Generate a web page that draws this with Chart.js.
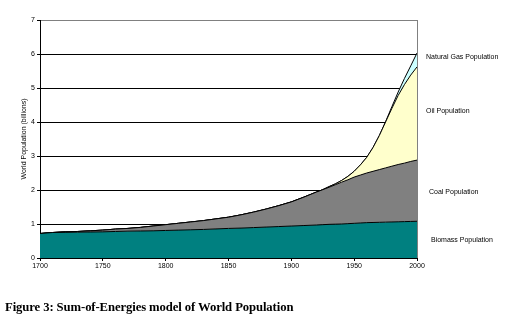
<!DOCTYPE html>
<html>
<head>
<meta charset="utf-8">
<script src="https://cdn.jsdelivr.net/npm/chart.js@4/dist/chart.umd.min.js"></script>
<style>
  html, body { margin: 0; padding: 0; background: #fff; }
  #wrap { position: relative; width: 522px; height: 333px; overflow: hidden; }
  canvas { position: absolute; left: 0; top: 0; }
  .lbl { position: absolute; font-family: "Liberation Sans", Arial, sans-serif; font-size: 7px; line-height: 8px; color: #000; white-space: nowrap; }
  #caption { position: absolute; left: 5px; top: 300px; font-family: "Liberation Serif", "Times New Roman", serif; font-weight: bold; font-size: 12.7px; line-height: 14px; letter-spacing: -0.1px; color: #000; white-space: nowrap; }
</style>
</head>
<body>
<div id="wrap">
  <canvas id="c" width="522" height="333"></canvas>
  <div class="lbl" style="left:426px; top:53px;">Natural Gas Population</div>
  <div class="lbl" style="left:426px; top:107px;">Oil Population</div>
  <div class="lbl" style="left:429px; top:188px;">Coal Population</div>
  <div class="lbl" style="left:431px; top:236px;">Biomass Population</div>
  <div id="caption">Figure 3: Sum-of-Energies model of World Population</div>
</div>
<script>
// Years (x values)
const years = [1700,1710,1720,1730,1740,1750,1760,1770,1780,1790,1800,1810,1820,1830,1840,1850,1860,1870,1880,1890,1900,1910,1920,1925,1930,1935,1940,1945,1950,1955,1960,1965,1970,1975,1980,1985,1990,1995,2000];
// Population supported by each energy source (billions), stacked
const biomass = [0.72,0.75,0.755,0.76,0.765,0.77,0.78,0.79,0.795,0.80,0.81,0.82,0.83,0.84,0.855,0.87,0.88,0.895,0.91,0.925,0.94,0.955,0.97,0.98,0.99,0.995,1.00,1.01,1.02,1.03,1.04,1.045,1.05,1.055,1.06,1.065,1.07,1.075,1.08];
const coal    = [0.00,0.00,0.015,0.02,0.035,0.05,0.07,0.08,0.105,0.14,0.17,0.20,0.23,0.26,0.295,0.33,0.39,0.455,0.53,0.615,0.71,0.835,0.97,1.03,1.09,1.16,1.23,1.29,1.36,1.41,1.46,1.505,1.55,1.595,1.64,1.685,1.72,1.765,1.80];
const oil     = [0,0,0,0,0,0,0,0,0,0,0,0,0,0,0,0,0,0,0,0,0,0,0,0,0.02,0.025,0.05,0.10,0.17,0.30,0.46,0.70,1.00,1.35,1.70,2.03,2.31,2.54,2.74];
const gas     = [0,0,0,0,0,0,0,0,0,0,0,0,0,0,0,0,0,0,0,0,0,0,0,0,0,0,0,0,0,0,0,0,0,0.01,0.05,0.10,0.18,0.27,0.41];
const seriesNames = ["Biomass Population","Coal Population","Oil Population","Natural Gas Population"];
const yTicks = [0,1,2,3,4,5,6,7];
const xTicks = [1700,1750,1800,1850,1900,1950,2000];

function pts(arr) { return years.map((y, i) => ({ x: y, y: arr[i] })); }

const mk = (label, arr, color, fill) => ({
  label, data: pts(arr), backgroundColor: color, borderColor: '#000', borderWidth: 1,
  pointRadius: 0, tension: 0, fill
});

new Chart(document.getElementById('c'), {
  type: 'line',
  data: {
    datasets: [
      mk(seriesNames[0], biomass, '#008080', 'origin'),
      mk(seriesNames[1], coal, '#808080', '-1'),
      mk(seriesNames[2], oil, '#FFFFCC', '-1'),
      mk(seriesNames[3], gas, '#CCFFFF', '-1')
    ]
  },
  options: {
    responsive: false,
    animation: false,
    events: [],
    layout: { padding: { left: 0, top: 20, right: 105, bottom: 55 } },
    plugins: { legend: { display: false }, tooltip: { enabled: false } },
    scales: {
      x: {
        type: 'linear', min: 1700, max: 2000,
        afterBuildTicks: (s) => { s.ticks = xTicks.map(v => ({ value: v })); },
        afterFit: (s) => { s.height = 20; },
        ticks: { callback: (v) => String(v), font: { family: 'Liberation Sans', size: 7 }, color: '#000', padding: 1, maxRotation: 0 },
        grid: {
          color: (ctx) => ctx.tick && ctx.tick.value === 2000 ? '#808080' : 'rgba(0,0,0,0)',
          tickColor: '#000', tickLength: 3, lineWidth: 1
        },
        border: { color: '#000', width: 1 }
      },
      y: {
        stacked: true, min: 0, max: 7,
        afterBuildTicks: (s) => { s.ticks = yTicks.map(v => ({ value: v })); },
        afterFit: (s) => { s.width = 40; },
        ticks: { font: { family: 'Liberation Sans', size: 7 }, color: '#000', padding: 2 },
        grid: {
          color: (ctx) => ctx.tick && ctx.tick.value === 7 ? '#808080' : '#000',
          tickColor: '#000', tickLength: 3, lineWidth: 1
        },
        border: { color: '#000', width: 1 },
        title: { display: true, text: 'World Population (billions)', font: { family: 'Liberation Sans', size: 7 }, color: '#000', padding: { top: 20, bottom: 0 } }
      }
    }
  }
});
</script>
</body>
</html>
